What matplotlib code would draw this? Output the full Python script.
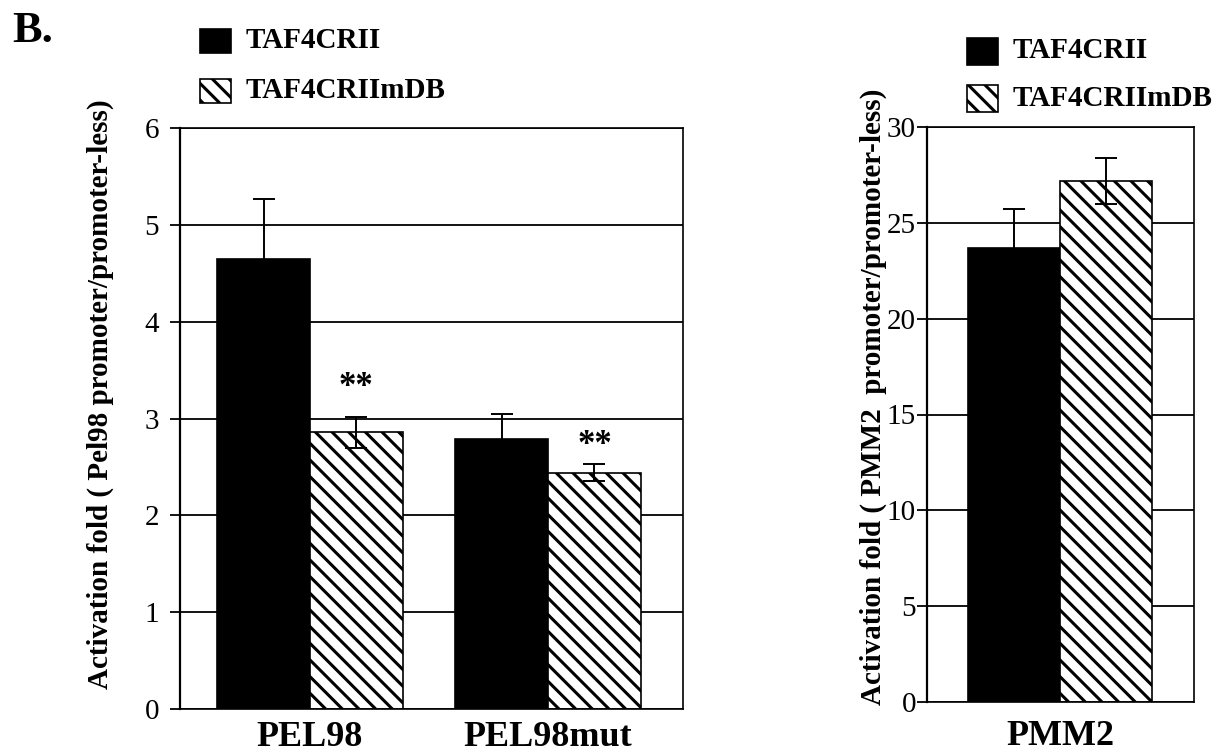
import matplotlib
matplotlib.use("Agg")
import matplotlib.pyplot as plt
from matplotlib.patches import Rectangle

plt.rcParams['font.family'] = ['Liberation Serif', 'DejaVu Serif']
plt.rcParams['hatch.linewidth'] = 2.2

# data
pel_groups = ["PEL98", "PEL98mut"]
pel_wt = [4.65, 2.79]          # TAF4CRII
pel_wt_err = [0.62, 0.26]
pel_mdb = [2.86, 2.44]         # TAF4CRIImDB
pel_mdb_err = [0.16, 0.09]
pel_sig = ["**", "**"]
pel_sig_y = [3.32, 2.72]       # where the stars sit

pmm_groups = ["PMM2"]
pmm_wt = [23.7]
pmm_wt_err = [2.0]
pmm_mdb = [27.2]
pmm_mdb_err = [1.2]

series = ["TAF4CRII", "TAF4CRIImDB"]

W, H = 1214, 753
fig = plt.figure(figsize=(W / 100, H / 100), dpi=100)


def fx(px):
    return px / W


def fy(py):
    return 1 - py / H


def style_axes(ax, ticks, pad):
    ax.set_axisbelow(True)
    ax.yaxis.grid(True, color='black', lw=1.3)
    ax.xaxis.grid(False)
    for s in ax.spines.values():
        s.set_color('black')
        s.set_linewidth(1.2)
    ax.spines['left'].set_linewidth(1.6)
    ax.set_yticks(ticks)
    ax.set_xticks([])
    ax.tick_params(axis='y', direction='out', length=7, width=1.3, pad=pad, labelsize=21)


# ---- left panel ----
ax1 = fig.add_axes([fx(180), fy(709), fx(683) - fx(180), fy(128) - fy(709)])
bw = 0.39
x = range(len(pel_groups))
xl = [i - bw / 2 for i in x]
xr = [i + bw / 2 for i in x]
ax1.bar(xl, pel_wt, bw, color='black', edgecolor='black', lw=1.2, zorder=2)
ax1.bar(xr, pel_mdb, bw, color='white', edgecolor='black', hatch='\\\\', lw=1.2, zorder=2)
ax1.errorbar(xl, pel_wt, yerr=pel_wt_err, fmt='none', ecolor='black', elinewidth=1.4, capsize=8, capthick=1.4, zorder=3)
ax1.errorbar(xr, pel_mdb, yerr=pel_mdb_err, fmt='none', ecolor='black', elinewidth=1.4, capsize=8, capthick=1.4, zorder=3)
for xi, sy, s in zip(xr, pel_sig_y, pel_sig):
    ax1.text(xi, sy, s, ha='center', va='center', fontsize=25, fontweight='bold')
ax1.set_xlim(-0.546, 1.567)
ax1.set_ylim(0, 6)
style_axes(ax1, range(0, 7), 8)
for xi, g in zip(x, pel_groups):
    ax1.text(xi, -0.12, g, ha='center', va='top', fontsize=26, fontweight='bold', clip_on=False)
fig.text(fx(100), fy(394), "Activation fold ( Pel98 promoter/promoter-less)", rotation=90,
         ha='center', va='center', fontsize=21, fontweight='bold')

# ---- right panel ----
ax2 = fig.add_axes([fx(927), fy(702), fx(1194) - fx(927), fy(127) - fy(702)])
bw2 = 1.0
x2 = range(len(pmm_groups))
x2l = [i - bw2 / 2 for i in x2]
x2r = [i + bw2 / 2 for i in x2]
ax2.bar(x2l, pmm_wt, bw2, color='black', edgecolor='black', lw=1.2, zorder=2)
ax2.bar(x2r, pmm_mdb, bw2, color='white', edgecolor='black', hatch='\\\\', lw=1.2, zorder=2)
ax2.errorbar(x2l, pmm_wt, yerr=pmm_wt_err, fmt='none', ecolor='black', elinewidth=1.4, capsize=8, capthick=1.4, zorder=3)
ax2.errorbar(x2r, pmm_mdb, yerr=pmm_mdb_err, fmt='none', ecolor='black', elinewidth=1.4, capsize=8, capthick=1.4, zorder=3)
ax2.set_xlim(-1.446, 1.457)
ax2.set_ylim(0, 30)
style_axes(ax2, range(0, 31, 5), 1)
for xi, g in zip(x2, pmm_groups):
    ax2.text(xi, -0.95, g, ha='center', va='top', fontsize=26, fontweight='bold', clip_on=False)
fig.text(fx(873), fy(397), "Activation fold ( PMM2  promoter/promoter-less)", rotation=90,
         ha='center', va='center', fontsize=21, fontweight='bold')

# ---- legends (hand placed like the original) ----
def legend_block(x0, ys, size):
    for (yc, name, hatched) in zip(ys, series, [False, True]):
        r = Rectangle((fx(x0), fy(yc + size[1] / 2)), size[0] / W, size[1] / H,
                      transform=fig.transFigure, facecolor='white' if hatched else 'black',
                      edgecolor='black', lw=1.2, hatch='\\\\' if hatched else None)
        fig.patches.append(r)
        fig.text(fx(x0 + size[0] + 15), fy(yc), name, ha='left', va='center',
                 fontsize=21, fontweight='bold')


legend_block(200, [41, 91], (31, 24))
legend_block(967, [51, 98], (31, 27))

fig.text(fx(12), fy(31), "B.", ha='left', va='center', fontsize=32, fontweight='bold')

fig.savefig("out.png", dpi=100)
